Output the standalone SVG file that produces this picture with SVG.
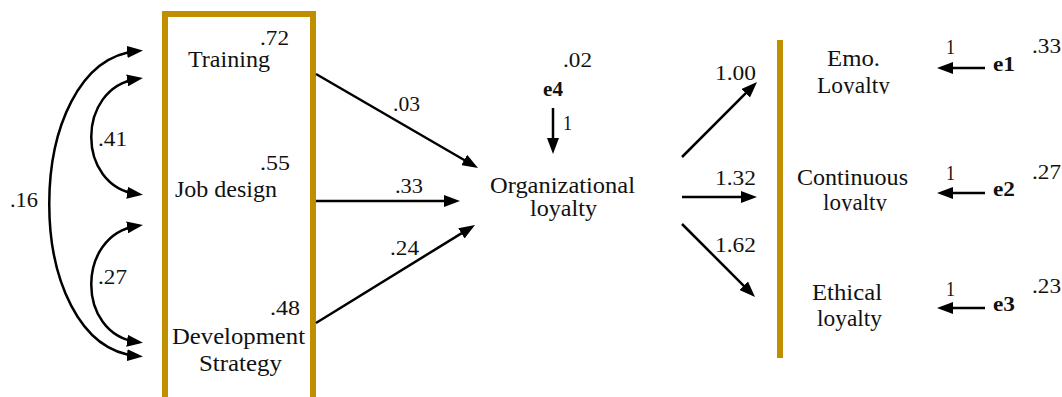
<svg xmlns="http://www.w3.org/2000/svg" width="1062" height="397" viewBox="0 0 1062 397">
<style>
text{font-family:"Liberation Serif","DejaVu Serif",serif;fill:#111}
.lb{font-size:23px}
.nm{font-size:20px}
.bd{font-size:20px;font-weight:bold}
.ln{fill:none;stroke:#000;stroke-width:2.5}
.gold{fill:none;stroke:#BF8F00;stroke-width:6}
</style>
<defs>
<marker id="ah" viewBox="0 0 16 12" refX="10" refY="6" markerWidth="16" markerHeight="12" markerUnits="userSpaceOnUse" orient="auto-start-reverse">
<path d="M0,0 L16,6 L0,12 z" fill="#000"/>
</marker>
<clipPath id="c1"><rect x="780" y="70" width="150" height="24"/></clipPath>
<clipPath id="c2"><rect x="780" y="190" width="150" height="21"/></clipPath>
</defs>
<rect width="1062" height="397" fill="#fff"/>

<g id="exogenous-box">
<rect class="gold" x="165" y="14" width="148" height="400"/>
</g>
<g id="training">
<text class="nm" x="260" y="45" textLength="29" lengthAdjust="spacingAndGlyphs">.72</text>
<text class="lb" x="188" y="67" textLength="82" lengthAdjust="spacingAndGlyphs">Training</text>
</g>
<g id="job-design">
<text class="nm" x="260" y="170" textLength="30" lengthAdjust="spacingAndGlyphs">.55</text>
<text class="lb" x="175" y="197" textLength="102" lengthAdjust="spacingAndGlyphs">Job design</text>
</g>
<g id="development-strategy">
<text class="nm" x="270" y="315" textLength="30" lengthAdjust="spacingAndGlyphs">.48</text>
<text class="lb" x="172" y="344" textLength="133" lengthAdjust="spacingAndGlyphs">Development</text>
<text class="lb" x="199" y="371" textLength="83" lengthAdjust="spacingAndGlyphs">Strategy</text>
</g>
<g id="e4">
<text class="nm" x="563" y="67" textLength="29" lengthAdjust="spacingAndGlyphs">.02</text>
<text class="bd" x="543" y="96" textLength="20" lengthAdjust="spacingAndGlyphs">e4</text>
</g>
<g id="organizational-loyalty">
<text class="lb" x="490" y="193" textLength="145" lengthAdjust="spacingAndGlyphs">Organizational</text>
<text class="lb" x="530" y="216" textLength="67" lengthAdjust="spacingAndGlyphs">loyalty</text>
</g>
<g id="indicator-bar">
<line class="gold" x1="780" y1="40" x2="780" y2="358"/>
</g>
<g id="emo-loyalty">
<text class="lb" x="827" y="66" textLength="53" lengthAdjust="spacingAndGlyphs">Emo.</text>
<text class="lb" x="817" y="93" textLength="73" lengthAdjust="spacingAndGlyphs" clip-path="url(#c1)">Loyalty</text>
</g>
<g id="continuous-loyalty">
<text class="lb" x="797" y="185" textLength="111" lengthAdjust="spacingAndGlyphs">Continuous</text>
<text class="lb" x="823" y="210" textLength="64" lengthAdjust="spacingAndGlyphs" clip-path="url(#c2)">loyalty</text>
</g>
<g id="ethical-loyalty">
<text class="lb" x="812" y="300" textLength="70" lengthAdjust="spacingAndGlyphs">Ethical</text>
<text class="lb" x="817" y="326" textLength="65" lengthAdjust="spacingAndGlyphs">loyalty</text>
</g>
<g id="e1">
<text class="bd" x="993" y="71" textLength="22" lengthAdjust="spacingAndGlyphs">e1</text>
<text class="nm" x="1032" y="53" textLength="29" lengthAdjust="spacingAndGlyphs">.33</text>
</g>
<g id="e2">
<text class="bd" x="993" y="196" textLength="22" lengthAdjust="spacingAndGlyphs">e2</text>
<text class="nm" x="1032" y="179" textLength="29" lengthAdjust="spacingAndGlyphs">.27</text>
</g>
<g id="e3">
<text class="bd" x="993" y="311" textLength="22" lengthAdjust="spacingAndGlyphs">e3</text>
<text class="nm" x="1032" y="293" textLength="29" lengthAdjust="spacingAndGlyphs">.23</text>
</g>

<g id="connectors">
<path class="ln" marker-start="url(#ah)" marker-end="url(#ah)" d="M137,51 C20,62 20,346 137,356"/>
<path class="ln" marker-start="url(#ah)" marker-end="url(#ah)" d="M137,79 C76,88 76,186 137,194"/>
<path class="ln" marker-start="url(#ah)" marker-end="url(#ah)" d="M137,226 C76,235 76,334 137,342"/>
<line class="ln" marker-end="url(#ah)" x1="316" y1="74" x2="472.8" y2="165"/>
<line class="ln" marker-end="url(#ah)" x1="316" y1="201" x2="454" y2="201"/>
<line class="ln" marker-end="url(#ah)" x1="316" y1="323" x2="469.9" y2="228.1"/>
<line class="ln" marker-end="url(#ah)" x1="553" y1="108" x2="553" y2="148"/>
<line class="ln" marker-end="url(#ah)" x1="682" y1="157" x2="752.8" y2="86.2"/>
<line class="ln" marker-end="url(#ah)" x1="682" y1="197" x2="751" y2="197"/>
<line class="ln" marker-end="url(#ah)" x1="682" y1="224" x2="750.8" y2="292.8"/>
<line class="ln" marker-end="url(#ah)" x1="985" y1="68" x2="943" y2="68"/>
<line class="ln" marker-end="url(#ah)" x1="985" y1="193" x2="943" y2="193"/>
<line class="ln" marker-end="url(#ah)" x1="985" y1="308" x2="943" y2="308"/>
</g>
<g id="connector-labels">
<text class="nm" x="10" y="207" textLength="28" lengthAdjust="spacingAndGlyphs">.16</text>
<text class="nm" x="98" y="146" textLength="29" lengthAdjust="spacingAndGlyphs">.41</text>
<text class="nm" x="98" y="284" textLength="29" lengthAdjust="spacingAndGlyphs">.27</text>
<text class="nm" x="393" y="111" textLength="27" lengthAdjust="spacingAndGlyphs">.03</text>
<text class="nm" x="395" y="193" textLength="28" lengthAdjust="spacingAndGlyphs">.33</text>
<text class="nm" x="390" y="255" textLength="29" lengthAdjust="spacingAndGlyphs">.24</text>
<text class="nm" x="563" y="130" textLength="9" lengthAdjust="spacingAndGlyphs">1</text>
<text class="nm" x="715" y="80" textLength="41" lengthAdjust="spacingAndGlyphs">1.00</text>
<text class="nm" x="715" y="185" textLength="41" lengthAdjust="spacingAndGlyphs">1.32</text>
<text class="nm" x="715" y="252" textLength="41" lengthAdjust="spacingAndGlyphs">1.62</text>
<text class="nm" x="946" y="54" textLength="9" lengthAdjust="spacingAndGlyphs">1</text>
<text class="nm" x="946" y="180" textLength="9" lengthAdjust="spacingAndGlyphs">1</text>
<text class="nm" x="946" y="296" textLength="9" lengthAdjust="spacingAndGlyphs">1</text>
</g>
</svg>
